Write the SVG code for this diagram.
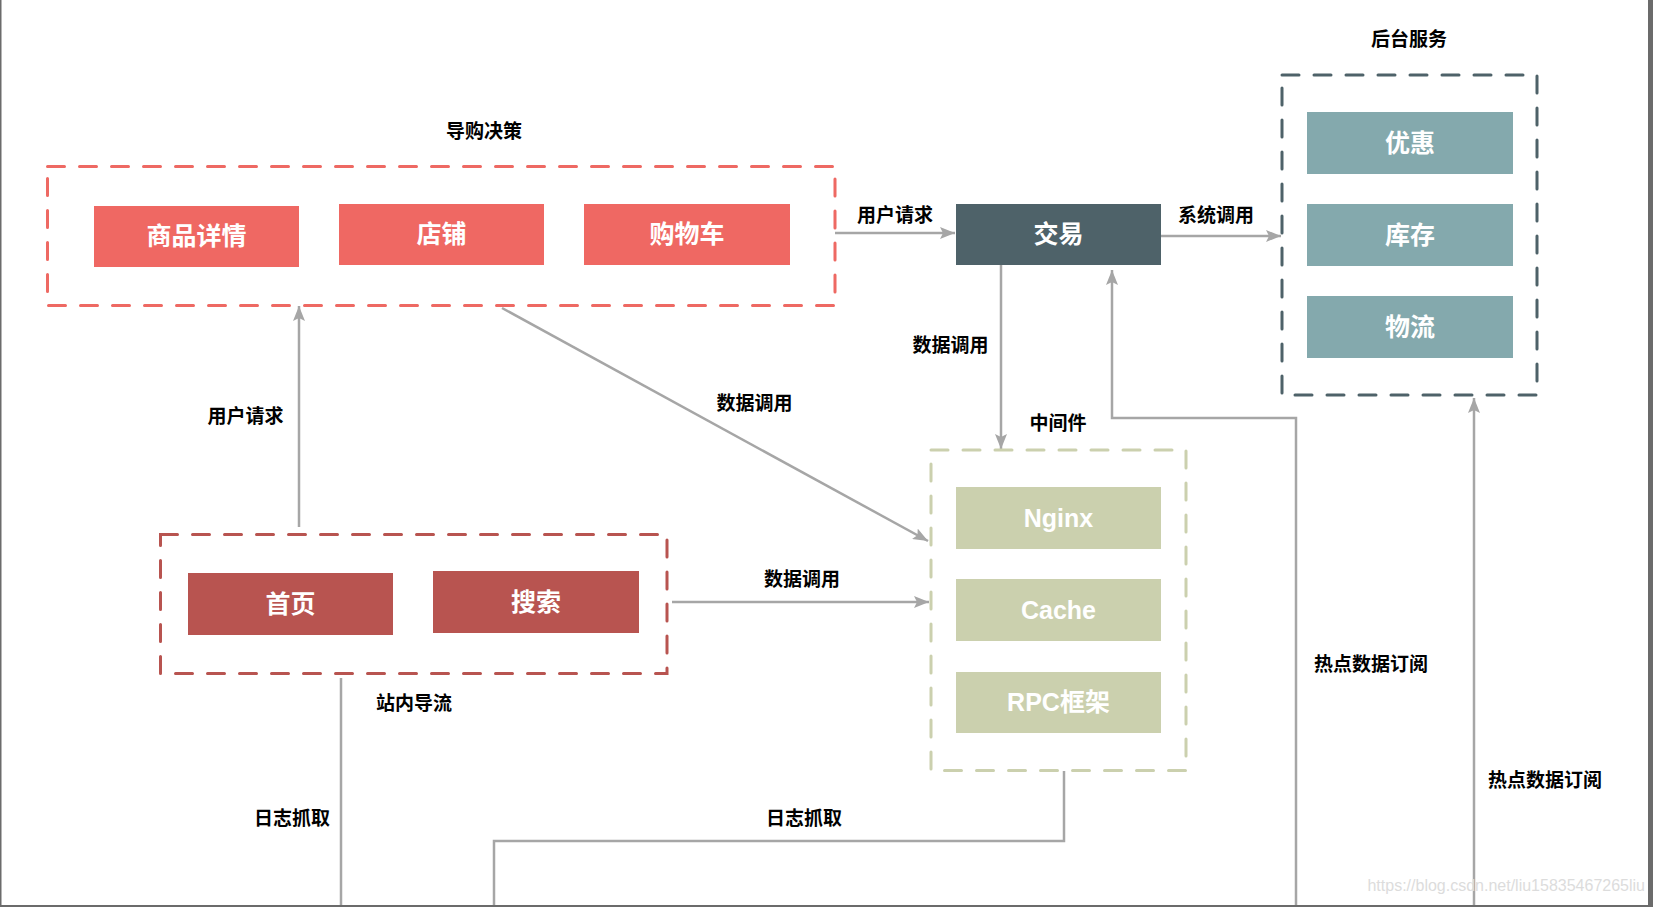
<svg xmlns="http://www.w3.org/2000/svg" width="1653" height="907" viewBox="0 0 1653 907">
<style>
.lbl{font-family:"Noto Sans CJK SC","Liberation Sans",sans-serif;font-weight:bold;font-size:19px;fill:#000;text-anchor:middle;dominant-baseline:central}
.nt{font-family:"Liberation Sans","Noto Sans CJK SC",sans-serif;font-weight:bold;font-size:25px;fill:#fff;text-anchor:middle;dominant-baseline:central}
.grp{fill:none;stroke-width:3;stroke-dasharray:17 15;stroke-linecap:round}
.con{fill:none;stroke:#a6a6a6;stroke-width:2.5}
.arr{marker-end:url(#ah)}
</style>
<defs>
<marker id="ah" markerUnits="userSpaceOnUse" markerWidth="16" markerHeight="12" refX="15" refY="6" orient="auto">
<path d="M0,0 L15,6 L0,12 L3,6 Z" fill="#a6a6a6"/>
</marker>
</defs>
<rect width="1653" height="907" fill="#fff"/>
<g id="frame" fill="#6b6b6b">
<rect x="0" y="0" width="1.5" height="907"/>
<rect x="1648" y="0" width="5" height="907"/>
<rect x="0" y="905" width="1653" height="2"/>
</g>

<g id="connectors">
<path class="con arr" d="M835 233 H955"/>
<path class="con arr" d="M1161 236 H1281"/>
<path class="con arr" d="M1001 265 V449"/>
<path class="con arr" d="M1296 905 V418 H1112 V270"/>
<path class="con arr" d="M1474 905 V398"/>
<path class="con arr" d="M299 527 V306"/>
<path class="con arr" d="M502 308 L928 541"/>
<path class="con arr" d="M672 602 H929"/>
<path class="con" d="M341 678 V905"/>
<path class="con" d="M1064 771 V841 H494 V905"/>
</g>

<g id="group-daogou">
<rect class="grp" x="47.5" y="166.5" width="787.5" height="139" stroke="#ee6963"/>
<text class="lbl" x="484" y="129">导购决策</text>
</g>
<g id="group-entry">
<rect class="grp" x="160.5" y="534.5" width="506.5" height="139" stroke="#b85450"/>
</g>
<g id="group-middleware">
<rect class="grp" x="931" y="450" width="255" height="320.5" stroke="#cbd0ae"/>
<text class="lbl" x="1058" y="421">中间件</text>
</g>
<g id="group-backend">
<rect class="grp" x="1282" y="75" width="255" height="320" stroke="#4e6269"/>
<text class="lbl" x="1409" y="37">后台服务</text>
</g>

<g id="node-detail"><rect x="94" y="206" width="205" height="61" fill="#ef6863"/><text class="nt" x="196.5" y="236">商品详情</text></g>
<g id="node-shop"><rect x="339" y="204" width="205" height="61" fill="#ef6863"/><text class="nt" x="441.5" y="234">店铺</text></g>
<g id="node-cart"><rect x="584" y="204" width="206" height="61" fill="#ef6863"/><text class="nt" x="687" y="234">购物车</text></g>
<g id="node-trade"><rect x="956" y="204" width="205" height="61" fill="#4e6269"/><text class="nt" x="1058.5" y="234">交易</text></g>
<g id="node-coupon"><rect x="1307" y="112" width="206" height="62" fill="#84a9ad"/><text class="nt" x="1410" y="143">优惠</text></g>
<g id="node-stock"><rect x="1307" y="204" width="206" height="62" fill="#84a9ad"/><text class="nt" x="1410" y="235">库存</text></g>
<g id="node-logistics"><rect x="1307" y="296" width="206" height="62" fill="#84a9ad"/><text class="nt" x="1410" y="327">物流</text></g>
<g id="node-nginx"><rect x="956" y="487" width="205" height="62" fill="#cbd0ae"/><text class="nt" x="1058.5" y="518">Nginx</text></g>
<g id="node-cache"><rect x="956" y="579" width="205" height="62" fill="#cbd0ae"/><text class="nt" x="1058.5" y="610">Cache</text></g>
<g id="node-rpc"><rect x="956" y="672" width="205" height="61" fill="#cbd0ae"/><text class="nt" x="1058.5" y="702">RPC框架</text></g>
<g id="node-home"><rect x="188" y="573" width="205" height="62" fill="#b85450"/><text class="nt" x="290.5" y="604">首页</text></g>
<g id="node-search"><rect x="433" y="571" width="206" height="62" fill="#b85450"/><text class="nt" x="536" y="602">搜索</text></g>

<g id="edge-labels">
<text class="lbl" x="895" y="213">用户请求</text>
<text class="lbl" x="1216" y="213">系统调用</text>
<text class="lbl" x="950.5" y="343">数据调用</text>
<text class="lbl" x="754.5" y="401">数据调用</text>
<text class="lbl" x="245.5" y="414">用户请求</text>
<text class="lbl" x="802" y="577">数据调用</text>
<text class="lbl" x="414" y="701">站内导流</text>
<text class="lbl" x="292" y="816">日志抓取</text>
<text class="lbl" x="804" y="816">日志抓取</text>
<text class="lbl" x="1371" y="662">热点数据订阅</text>
<text class="lbl" x="1545" y="778">热点数据订阅</text>
</g>
<text x="1645" y="885" font-family="Liberation Sans, sans-serif" font-size="16" fill="#dcdcdc" text-anchor="end" dominant-baseline="central">https://blog.csdn.net/liu15835467265liu</text>
</svg>
